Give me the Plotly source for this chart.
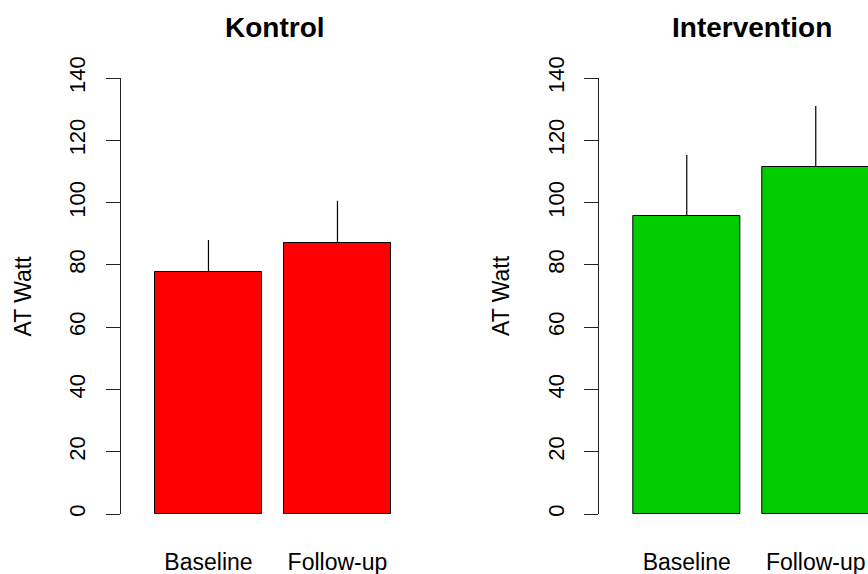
import plotly.graph_objects as go

# Anaerobic threshold (watts) per group, mean with upward SD whisker
categories = ["Baseline", "Follow-up"]
kontrol_mean = [77.7, 87.1]
kontrol_sd = [10.3, 13.5]
intervention_mean = [95.7, 111.4]
intervention_sd = [19.6, 19.6]
y_ticks = [0, 20, 40, 60, 80, 100, 120, 140]
panel_titles = ["Kontrol", "Intervention"]
y_title = "AT Watt"

W, H = 868, 574
FONT = "Liberation Sans, Arial, sans-serif"

fig = go.Figure()

panels = [
    (kontrol_mean, kontrol_sd, "#FF0000", "x", "y"),
    (intervention_mean, intervention_sd, "#00CD00", "x2", "y2"),
]
for mean, sd, color, xa, ya in panels:
    fig.add_trace(go.Bar(
        x=categories, y=mean, xaxis=xa, yaxis=ya,
        width=0.83,
        marker=dict(color=color, line=dict(color="#000000", width=1)),
        error_y=dict(type="data", symmetric=False, array=sd,
                     arrayminus=[0] * len(sd), width=0,
                     thickness=1.2, color="#000000"),
        showlegend=False,
    ))

# pixel geometry of the two panels
y_bottom, y_top = 514, 78
ydom = [(H - y_bottom) / H, (H - y_top) / H]
left_axis, left_end = 121, 428.4
right_axis, right_end = 599.3, 868
spacing = 129.0
x_lo = -0.678

axis_y = dict(
    range=[0, 140], domain=ydom, tickvals=y_ticks,
    showline=True, linecolor="#222222", linewidth=1,
    ticks="outside", ticklen=14, tickcolor="#222222", tickwidth=1,
    tickangle=-90, tickfont=dict(family=FONT, size=22, color="#000000"),
    ticklabelstandoff=12, showgrid=False, zeroline=False, automargin=False,
)
axis_x = dict(
    showline=False, ticks="", showgrid=False, zeroline=False,
    tickfont=dict(family=FONT, size=23, color="#000000"),
    ticklabelstandoff=32, type="category", automargin=False,
)

fig.update_layout(
    width=W, height=H,
    margin=dict(l=0, r=0, t=0, b=0, autoexpand=False),
    paper_bgcolor="white", plot_bgcolor="white",
    bargap=0,
    xaxis=dict(axis_x, domain=[left_axis / W, left_end / W],
               range=[x_lo, x_lo + (left_end - left_axis) / spacing], anchor="y"),
    yaxis=dict(axis_y, anchor="x"),
    xaxis2=dict(axis_x, domain=[right_axis / W, right_end / W],
                range=[x_lo, x_lo + (right_end - right_axis) / spacing], anchor="y2"),
    yaxis2=dict(axis_y, anchor="x2"),
)

# panel titles
for title, cx in zip(panel_titles, [274.7, 751.7]):
    fig.add_annotation(
        text=f"<b>{title}</b>", x=cx / W, y=(H - 27.5) / H,
        xref="paper", yref="paper", showarrow=False,
        xanchor="center", yanchor="middle",
        font=dict(family=FONT, size=28, color="#000000"),
    )

# y axis titles
for cx in [22.5, 501.0]:
    fig.add_annotation(
        text=y_title, x=cx / W, y=(H - 296) / H,
        xref="paper", yref="paper", showarrow=False, textangle=-90,
        xanchor="center", yanchor="middle",
        font=dict(family=FONT, size=23, color="#000000"),
    )

fig.write_html("out.html")
